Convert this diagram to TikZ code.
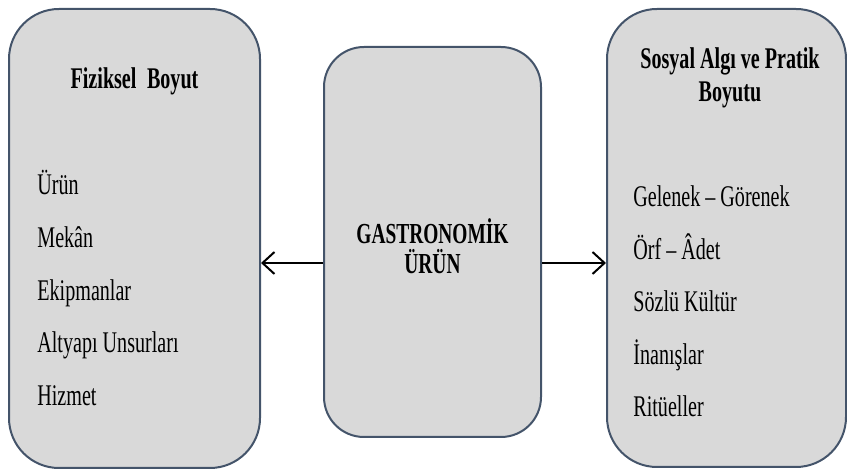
\documentclass[tikz,border=0pt]{standalone}
\usepackage{fontspec}
\setmainfont[FakeStretch=0.67]{Liberation Serif}
\usetikzlibrary{arrows.meta,positioning}

\definecolor{boxline}{RGB}{68,84,106}
\definecolor{boxfill}{RGB}{217,217,217}

\begin{document}
\begin{tikzpicture}[x=0.5pt,y=0.5pt,
  panel/.style={rectangle,draw=boxline,fill=boxfill,line width=1pt,
                rounded corners=25pt},
  title/.style={font=\fontsize{15}{16.5}\selectfont\bfseries,align=center},
  entry/.style={font=\fontsize{15}{17}\selectfont,anchor=base west,inner sep=0pt},
  arr/.style={-{Straight Barb[length=6pt,width=11pt]},line width=1pt},
]
  \useasboundingbox (0,0) rectangle (847,471);

  % Boxes
  \node[panel,minimum width=125.5pt,minimum height=229.5pt] (fiz) at (134.5,232.5) {};
  \node[panel,minimum width=108.5pt,minimum height=195pt,rounded corners=20pt] (gas) at (432.5,229) {};
  \node[panel,minimum width=119.5pt,minimum height=229pt] (sos) at (726.5,233) {};

  % Titles
  \node[title] (fizt) at (134.5,390) {Fiziksel\hspace{0.35em}Boyut};
  \node[title] (sost) at (730,393) {Sosyal Algı ve Pratik\\Boyutu};
  \node[title,font=\fontsize{14.5}{15}\selectfont\bfseries] (gast) at (432.5,225) {GASTRONOMİK\\ÜRÜN};

  % Left items
  \node[entry] (f1) at (37,276) {Ürün};
  \node[entry] (f2) at (37,223) {Mekân};
  \node[entry] (f3) at (37,170) {Ekipmanlar};
  \node[entry] (f4) at (37,118) {Altyapı Unsurları};
  \node[entry] (f5) at (37,65)  {Hizmet};

  % Right items
  \node[entry] (s1) at (633,264) {Gelenek -- Görenek};
  \node[entry] (s2) at (633,211) {Örf -- Âdet};
  \node[entry] (s3) at (633,159) {Sözlü Kültür};
  \node[entry] (s4) at (633,106) {İnanışlar};
  \node[entry] (s5) at (633,54)  {Ritüeller};

  % Arrows
  \coordinate (ay) at (0,208);
  \draw[arr] (gas.west |- ay) -- (fiz.east |- ay);
  \draw[arr] (gas.east |- ay) -- (sos.west |- ay);
\end{tikzpicture}
\end{document}
